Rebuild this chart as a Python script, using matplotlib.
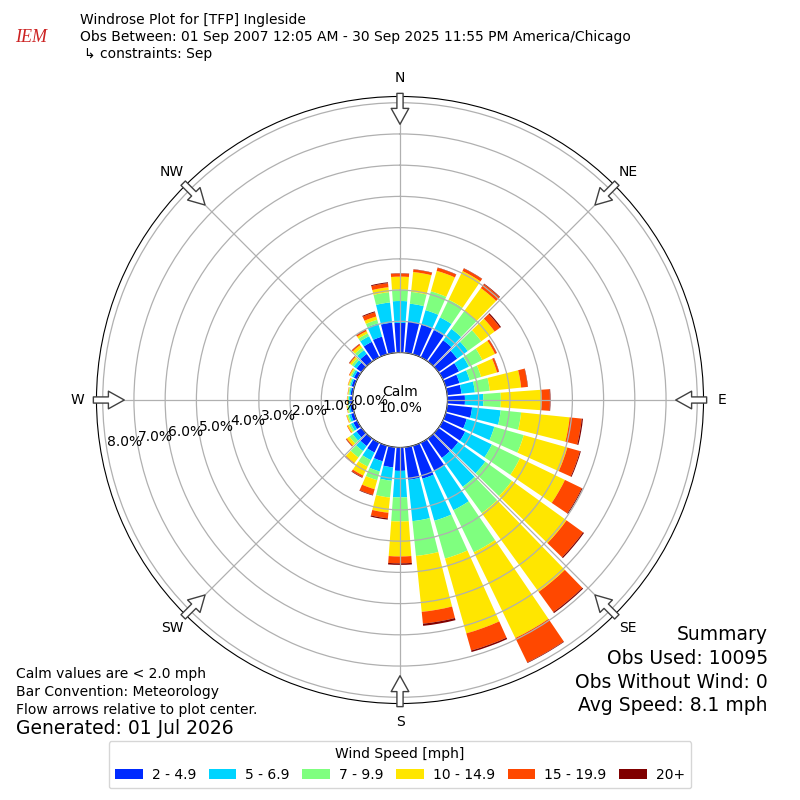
import numpy as np
import matplotlib
matplotlib.use("Agg")
import matplotlib.pyplot as plt

directions = np.arange(0, 360, 10)
bin_labels = ["2 - 4.9", "5 - 6.9", "7 - 9.9", "10 - 14.9", "15 - 19.9", "20+"]
bin_colors = ["#002aff", "#00d4ff", "#7fff7f", "#ffe600", "#ff4800", "#800000"]
compass = ["N", "NE", "E", "SE", "S", "SW", "W", "NW"]

# percent of obs for each direction (0, 10, ... 350), one list per speed bin
spd_2_5 = [0.95, 1.01, 0.99, 0.97, 0.84, 0.74, 0.58, 0.46, 0.46, 0.56,
           0.80, 0.70, 0.80, 0.78, 0.77, 1.00, 1.10, 1.05, 0.75, 0.65,
           0.52, 0.35, 0.30, 0.20, 0.14, 0.11, 0.08, 0.08, 0.07, 0.09,
           0.12, 0.20, 0.30, 0.55, 0.59, 0.97]
spd_5_7 = [0.70, 0.57, 0.48, 0.45, 0.45, 0.42, 0.35, 0.34, 0.43, 0.59,
           0.92, 0.92, 0.95, 1.07, 1.14, 1.40, 1.40, 1.33, 0.85, 0.43,
           0.34, 0.27, 0.20, 0.15, 0.09, 0.07, 0.05, 0.04, 0.04, 0.05,
           0.07, 0.11, 0.15, 0.20, 0.44, 0.65]
spd_7_10 = [0.37, 0.38, 0.63, 0.63, 0.71, 0.53, 0.48, 0.38, 0.48, 0.56,
            0.66, 0.98, 1.00, 1.05, 1.04, 1.50, 1.26, 1.12, 0.77, 0.54,
            0.29, 0.23, 0.25, 0.13, 0.07, 0.05, 0.04, 0.03, 0.03, 0.04,
            0.05, 0.08, 0.10, 0.10, 0.12, 0.33]
spd_10_15 = [0.41, 0.64, 0.68, 1.02, 0.90, 0.53, 0.45, 0.53, 1.01, 1.30,
             1.56, 1.45, 1.60, 2.16, 3.11, 3.05, 2.49, 1.80, 1.12, 0.49,
             0.30, 0.32, 0.22, 0.10, 0.05, 0.03, 0.02, 0.02, 0.02, 0.03,
             0.04, 0.07, 0.10, 0.08, 0.11, 0.16]
spd_15_20 = [0.10, 0.08, 0.10, 0.09, 0.16, 0.21, 0.06, 0.06, 0.21, 0.27,
             0.39, 0.42, 0.60, 0.65, 0.80, 0.87, 0.57, 0.38, 0.22, 0.18,
             0.19, 0.06, 0.03, 0.03, 0.02, 0.01, 0.01, 0.01, 0.01, 0.01,
             0.02, 0.03, 0.04, 0.05, 0.14, 0.13]
spd_20_up = [0.01, 0.01, 0.01, 0.01, 0.02, 0.04, 0.01, 0.01, 0.01, 0.02,
             0.04, 0.03, 0.03, 0.04, 0.04, 0.02, 0.05, 0.07, 0.05, 0.04,
             0.02, 0.02, 0.01, 0.01, 0.00, 0.00, 0.00, 0.00, 0.00, 0.00,
             0.00, 0.01, 0.01, 0.01, 0.03, 0.03]
calm_pct = 10.0
rings = np.arange(0, 9)

fig = plt.figure(figsize=(8, 8), dpi=100)

def px(x, y):
    # pixel position (from top left) -> figure fraction
    return x / 800.0, 1 - y / 800.0

ax = fig.add_axes([0.1206, 0.1206, 0.7588, 0.7588], projection="polar")
ax.set_theta_zero_location("N")
ax.set_theta_direction(-1)

theta = np.deg2rad(directions)
bottom = np.zeros(len(directions))
handles = []
for vals, color, label in zip([spd_2_5, spd_5_7, spd_7_10, spd_10_15, spd_15_20, spd_20_up],
                              bin_colors, bin_labels):
    vals = np.array(vals)
    bars = ax.bar(theta, vals, width=np.deg2rad(8.3), bottom=bottom,
                  color=color, linewidth=0, label=label, zorder=1)
    handles.append(bars)
    bottom += vals

ax.set_ylim(0, 8.2)
ax.set_rorigin(-1.52)
ax.set_axisbelow(False)
ax.grid(True, color="#b0b0b0", lw=0.9)
ax.set_rgrids(rings, labels=["%.1f%%" % r for r in rings], angle=260.5, fontsize=10)
ax.set_thetagrids(np.arange(0, 360, 45), labels=compass, fontsize=10)
ax.tick_params(axis="x", pad=3)

# hollow flow arrows at the 8 compass points
for ang in np.arange(0, 360, 45):
    t = np.deg2rad(ang)
    ax.annotate("", xy=(t, 7.31), xytext=(t, 8.30), annotation_clip=False,
                arrowprops=dict(arrowstyle="simple,head_length=0.9,head_width=1.0,tail_width=0.35",
                                mutation_scale=12.7, fc="white", ec="#404040", lw=1,
                                shrinkA=0, shrinkB=0), zorder=5)

ax.text(0.5, 0.5, "Calm\n%.1f%%" % calm_pct, transform=ax.transAxes,
        ha="center", va="center", fontsize=10, zorder=6)

# header
fig.text(*px(80, 20), "Windrose Plot for [TFP] Ingleside", fontsize=10, va="center")
fig.text(*px(80, 37), "Obs Between: 01 Sep 2007 12:05 AM - 30 Sep 2025 11:55 PM America/Chicago",
         fontsize=10, va="center")
fig.text(*px(84, 54), "\u21b3 constraints: Sep", fontsize=10, va="center")
fig.text(*px(31, 38), "IEM", fontsize=13, color="#cc2222", style="italic",
         family="Liberation Serif", ha="center", va="center")

# footer notes
fig.text(*px(16, 674), "Calm values are < 2.0 mph", fontsize=10, va="center")
fig.text(*px(16, 692), "Bar Convention: Meteorology", fontsize=10, va="center")
fig.text(*px(16, 710), "Flow arrows relative to plot center.", fontsize=10, va="center")
fig.text(*px(16, 729), "Generated: 01 Jul 2026", fontsize=13.5, va="center")

summary = ["Summary", "Obs Used: 10095", "Obs Without Wind: 0", "Avg Speed: 8.1 mph"]
for i, line in enumerate(summary):
    fig.text(*px(768, 635 + 23.5 * i), line, fontsize=13.5, ha="right", va="center")

fig.legend(handles, bin_labels, loc="upper center", bbox_to_anchor=px(400, 734),
           ncol=6, fontsize=10, title="Wind Speed [mph]", title_fontsize=10,
           handlelength=2.0, handleheight=0.7, handletextpad=0.65, columnspacing=0.9,
           frameon=True, borderpad=0.45)

fig.savefig("out.png", dpi=100)
